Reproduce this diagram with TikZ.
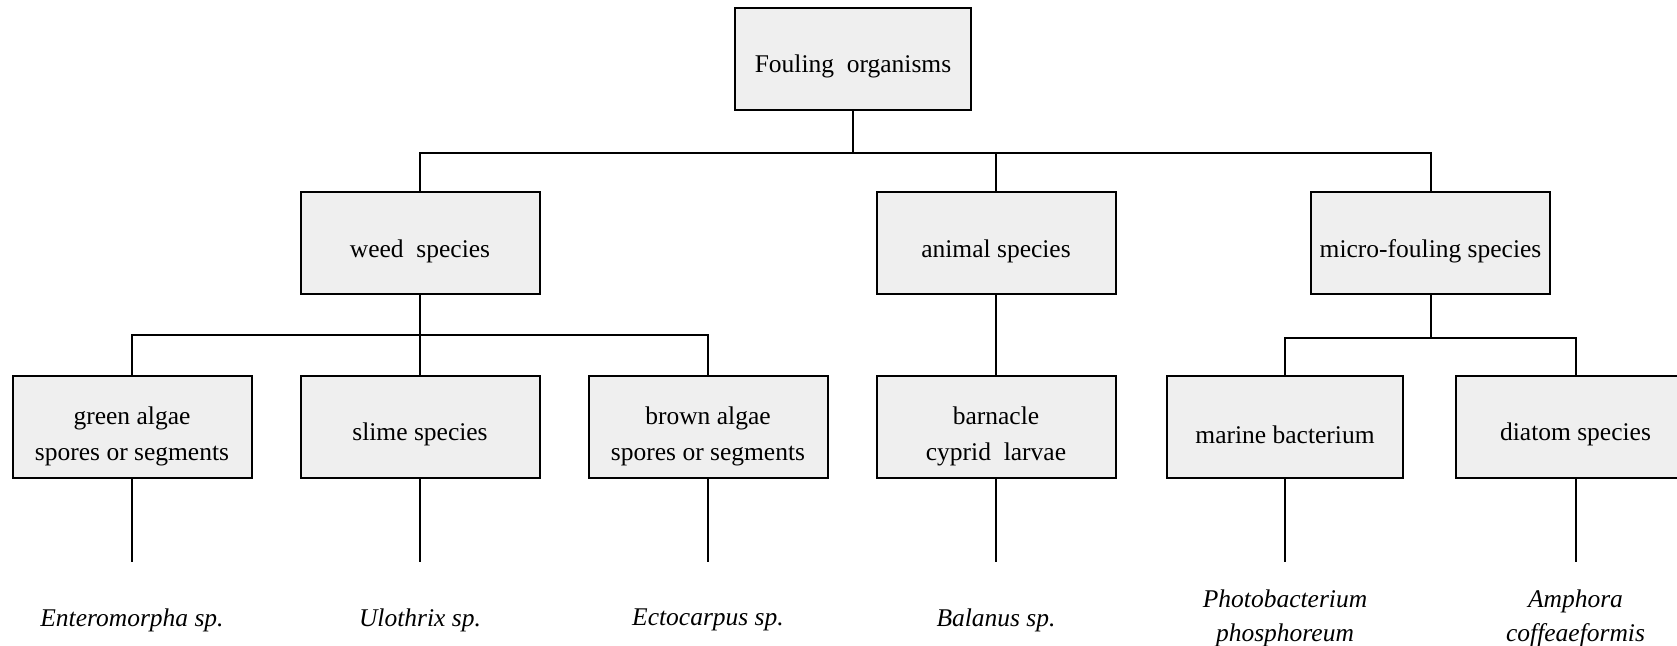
\documentclass[tikz,border=0pt]{standalone}
\usepackage{fontspec}
\setmainfont{Liberation Serif}
\definecolor{boxgray}{HTML}{EFEFEF}
\newcommand{\twolines}[2]{\begin{tabular}{@{}c@{}}\rule{0pt}{20.7pt}#1\\#2\end{tabular}}
\begin{document}
\fontsize{12.75}{18}\selectfont
\begin{tikzpicture}[x=0.5pt,y=-0.5pt,line width=1pt,
		box/.style={draw,fill=boxgray,minimum width=119.5pt,minimum height=51pt,inner sep=0pt,
			execute at begin node={\rule{0pt}{16.5pt}}},
		leaf/.style={align=center,font=\itshape,inner sep=0pt}]
		\clip (0,0) rectangle (1677,646); % Page size
		\useasboundingbox (0,0) rectangle (1677,646);

		\node[box,minimum width=118pt] (top) at (853,59) {Fouling\ \ organisms}; % Root

		\node[box] (weed) at (420,243.5) {weed\ \ species}; % Second row
		\node[box] (animal) at (996,243.5) {animal species};
		\node[box] (micro) at (1430.5,243.5) {micro-fouling species};

		\node[box] (green) at (132,427) {\twolines{green algae}{spores or segments}}; % Third row
		\node[box] (slime) at (420,427) {slime species};
		\node[box] (brown) at (708,427) {\twolines{brown algae}{spores or segments}};
		\node[box] (barnacle) at (996,427) {\twolines{barnacle}{cyprid\ \ larvae}};
		\node[box,minimum width=118pt] (marine) at (1285,427) {marine bacterium};
		\node[box] (diatom) at (1575.5,427) {diatom species};

		\node[leaf] (entero) at (132,620) {Enteromorpha sp.}; % Species names
		\node[leaf] (ulo) at (420,620) {Ulothrix sp.};
		\node[leaf] (ecto) at (708,620) {Ectocarpus sp.};
		\node[leaf] (balanus) at (996,620) {Balanus sp.};
		\node[leaf] (photo) at (1285,618) {Photobacterium\\[-1pt]phosphoreum};
		\node[leaf] (amph) at (1575.5,618) {Amphora\\[-1pt]coffeaeformis};

		\draw (top.south) -- ++(0,42) coordinate (bus1); % Root to second row
		\draw (weed.north) |- (bus1) -| (micro.north);
		\draw (animal.north) -- (animal.north |- bus1);

		\draw (weed.south) -- (slime.north); % Weed branch
		\path (slime.north) ++(0,-39.5) coordinate (bus2);
		\draw (green.north) |- (bus2) -| (brown.north);

		\draw (animal.south) -- (barnacle.north); % Animal branch

		\draw (micro.south) -- ++(0,42.5) coordinate (bus3); % Micro-fouling branch
		\draw (marine.north) |- (bus3) -| (diatom.north);

		\foreach \b in {green,slime,brown,barnacle,marine,diatom}
			\draw (\b.south) -- ++(0,83) coordinate (\b-end); % Lines down to species
	\end{tikzpicture}
\end{document}
